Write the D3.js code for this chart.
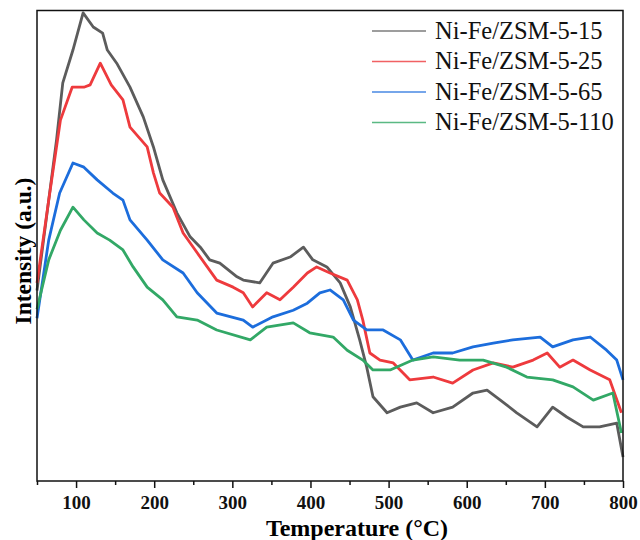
<!DOCTYPE html>
<html>
<head>
<script src="https://d3js.org/d3.v7.min.js"></script>
<style>
  body { margin: 0; background: #fff; }
  svg { display: block; }
  text { font-family: "Liberation Serif", "Times New Roman", "DejaVu Serif", serif; }
</style>
</head>
<body>
<div id="chart"></div>
<script>
// readings (temperature in °C, intensity in a.u. 0-100)
var temp15 = [50,65,75,83,96,109,122,134,140,152,169,186,199,211,229,246,259,271,284,306,314,335,352,374,391,403,421,438,451,463,472,480,498,515,536,557,582,608,626,643,664,690,710,728,749,770,792,800];
var vals15 = [40.5,59.7,72.5,84.6,91.6,99.5,96.5,95.2,91.6,88.8,83.7,77.4,71.0,64.0,57.0,51.9,49.7,47.0,46.3,43.4,42.7,42.1,46.3,47.6,49.7,47.0,45.5,42.1,37.0,30.0,24.2,17.9,14.5,15.7,16.6,14.5,15.7,18.7,19.3,17.2,14.5,11.5,15.7,13.6,11.5,11.5,12.3,5.1];

var temp25 = [50,65,80,95,110,118,131,145,160,169,191,199,207,224,237,255,280,301,314,326,344,361,378,396,408,425,447,460,467,476,489,506,527,557,582,608,634,659,685,703,719,736,758,783,798];
var vals25 = [42.1,59.7,76.7,83.7,83.7,84.2,88.8,84.2,81.0,75.2,71.0,65.5,61.2,58.2,52.7,48.5,42.7,41.2,40.0,37.0,40.0,38.5,41.2,44.2,45.5,44.2,42.7,38.5,34.2,27.2,25.7,25.1,21.5,22.1,20.8,23.6,25.1,24.2,25.7,27.2,24.2,25.7,23.6,21.5,14.5];

var temp65 = [50,65,79,96,110,127,147,160,169,191,211,237,255,280,314,326,352,378,396,412,425,442,455,472,493,515,531,557,582,608,634,659,694,710,736,758,779,792,800];
var vals65 = [34.6,51.2,61.2,67.6,66.7,64.0,61.2,59.7,55.5,51.2,47.0,44.2,40.0,35.7,34.2,32.7,34.9,36.3,37.8,40.0,40.6,38.5,34.2,32.1,32.1,30.0,25.7,27.2,27.2,28.5,29.3,30.0,30.6,28.5,30.0,30.6,27.8,25.7,21.5];

var temp110 = [50,65,80,96,110,127,143,160,173,191,211,229,255,280,323,344,378,399,429,447,467,480,502,531,557,591,621,651,677,710,736,762,787,798];
var vals110 = [36.5,47.0,53.3,58.2,55.5,52.7,51.2,49.1,45.5,41.2,38.5,34.9,34.2,32.1,30.0,32.7,33.6,31.5,30.6,27.8,25.7,23.6,23.6,25.7,26.4,25.7,25.7,24.2,22.1,21.5,20.0,17.2,18.7,10.2];

var seriesNames = ["Ni-Fe/ZSM-5-15", "Ni-Fe/ZSM-5-25", "Ni-Fe/ZSM-5-65", "Ni-Fe/ZSM-5-110"];
var seriesColors = ["#5c5c5c", "#ee3a3d", "#1c6ddc", "#32a866"];
var xTicks = [100, 200, 300, 400, 500, 600, 700, 800];

var series = [
  {name: seriesNames[0], color: seriesColors[0], t: temp15, v: vals15},
  {name: seriesNames[1], color: seriesColors[1], t: temp25, v: vals25},
  {name: seriesNames[2], color: seriesColors[2], t: temp65, v: vals65},
  {name: seriesNames[3], color: seriesColors[3], t: temp110, v: vals110}
];

var FONT = '"Liberation Serif", "Times New Roman", "DejaVu Serif", serif';
var W = 640, H = 540;
var margin = {top: 10.5, right: 17, bottom: 59, left: 37};
var width = W - margin.left - margin.right,
    height = H - margin.top - margin.bottom;

var svg = d3.select("#chart").append("svg")
    .attr("width", W).attr("height", H)
    .attr("font-family", FONT);

var g = svg.append("g")
    .attr("transform", "translate(" + margin.left + "," + margin.top + ")");

var x = d3.scaleLinear().domain([50, 800]).range([0, width]);
var y = d3.scaleLinear().domain([0, 100]).range([height, 0]);

var line = d3.line()
    .x(function(d) { return x(d[0]); })
    .y(function(d) { return y(d[1]); });

series.forEach(function(s) {
  g.append("path")
    .datum(d3.zip(s.t, s.v))
    .attr("fill", "none")
    .attr("stroke", s.color)
    .attr("stroke-width", 2.8)
    .attr("stroke-linejoin", "round")
    .attr("d", line);
});

// frame
g.append("rect")
  .attr("width", width).attr("height", height)
  .attr("fill", "none").attr("stroke", "#111").attr("stroke-width", 1.5);

// minor ticks
g.append("g")
  .attr("transform", "translate(0," + height + ")")
  .call(d3.axisBottom(x).tickValues(d3.range(50, 801, 100)).tickSize(4).tickFormat(""))
  .call(function(a) { a.select(".domain").remove(); a.selectAll("line").attr("stroke", "#111").attr("stroke-width", 1.5); });

var xAxis = g.append("g")
  .attr("transform", "translate(0," + height + ")")
  .call(d3.axisBottom(x).tickValues(xTicks).tickSize(7).tickPadding(8).tickFormat(d3.format("d")));
xAxis.attr("font-family", FONT);
xAxis.select(".domain").remove();
xAxis.selectAll("line").attr("stroke", "#111").attr("stroke-width", 1.5);
xAxis.selectAll("text")
  .attr("fill", "#111")
  .attr("font-family", FONT)
  .attr("font-size", 19)
  .attr("font-weight", "bold");

svg.append("text")
  .attr("x", 357).attr("y", 536)
  .attr("text-anchor", "middle")
  .attr("font-family", FONT)
  .attr("font-size", 24).attr("font-weight", "bold")
  .text("Temperature (\u00b0C)");

svg.append("text")
  .attr("transform", "translate(31,251) rotate(-90)")
  .attr("text-anchor", "middle")
  .attr("font-family", FONT)
  .attr("font-size", 23.5).attr("font-weight", "bold")
  .text("Intensity (a.u.)");

// legend
var legend = svg.append("g").attr("transform", "translate(372,31)");
series.forEach(function(s, i) {
  var row = legend.append("g").attr("transform", "translate(0," + (i * 30.5) + ")");
  row.append("line").attr("x1", 0).attr("x2", 54)
    .attr("stroke", s.color).attr("stroke-width", 1.3).attr("opacity", 0.8);
  row.append("text").attr("x", 63).attr("y", 7.5)
    .attr("font-family", FONT)
    .attr("font-size", 24.5).attr("fill", "#111")
    .text(s.name);
});
</script>
</body>
</html>
